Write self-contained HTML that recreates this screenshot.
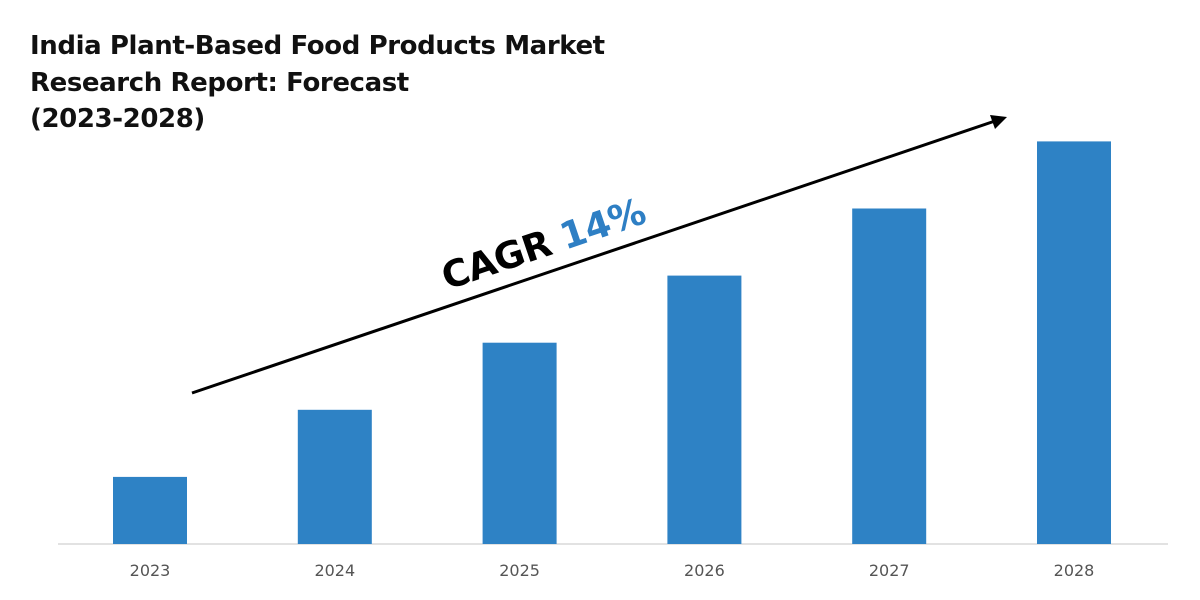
<!DOCTYPE html>
<html><head><meta charset="utf-8"><style>
html,body{margin:0;padding:0;background:#fff;}
svg{display:block;}
</style></head><body>
<svg id="chart" width="1200" height="600" viewBox="0 0 1200 600" xmlns="http://www.w3.org/2000/svg">
<g font-family="'DejaVu Sans','Liberation Sans',sans-serif" font-weight="bold" font-size="26" fill="#111" letter-spacing="-0.4">
<text x="30" y="54">India Plant-Based Food Products Market</text>
<text x="30" y="91">Research Report: Forecast</text>
<text x="30" y="127">(2023-2028)</text>
</g>
<line x1="58" y1="544" x2="1168" y2="544" stroke="#d9d9d9" stroke-width="1.5"/>
<g id="bars"></g>
<g id="labels" font-family="'DejaVu Sans','Liberation Sans',sans-serif" font-size="16" fill="#555" text-anchor="middle"></g>
<g>
<line x1="192" y1="393" x2="995" y2="121" stroke="#000" stroke-width="3"/>
<polygon points="1007,117 990,115 995,129" fill="#000"/>
</g>
<text transform="translate(447,290) rotate(-18.7)" font-family="'DejaVu Sans','Liberation Sans',sans-serif" font-weight="bold" font-size="37" fill="#000" letter-spacing="-0.5">CAGR <tspan fill="#2e7fc4">14%</tspan></text>
</svg>
<script>
const categories = ["2023","2024","2025","2026","2027","2028"];
const values = [1.0, 2.0, 3.0, 4.0, 5.0, 6.0];
const baseY = 544, unit = 67.1, x0 = 113, step = 184.8, bw = 74;
const yScale = v => baseY - v * unit;
const xScale = i => x0 + i * step;
const ns = "http://www.w3.org/2000/svg";
const bars = document.getElementById("bars");
const labels = document.getElementById("labels");
categories.forEach((c, i) => {
  const r = document.createElementNS(ns, "rect");
  r.setAttribute("x", xScale(i));
  r.setAttribute("y", yScale(values[i]));
  r.setAttribute("width", bw);
  r.setAttribute("height", baseY - yScale(values[i]));
  r.setAttribute("fill", "#2e82c5");
  
  
  bars.appendChild(r);
  const t = document.createElementNS(ns, "text");
  t.setAttribute("x", xScale(i) + bw / 2);
  t.setAttribute("y", 576);
  t.textContent = c;
  
  
  labels.appendChild(t);
});
</script>
</body></html>
